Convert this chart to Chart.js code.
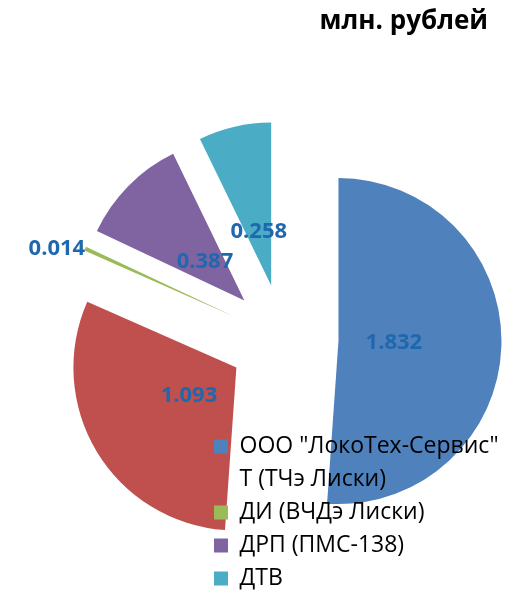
<!DOCTYPE html>
<html>
<head>
<meta charset="utf-8">
<script src="https://cdn.jsdelivr.net/npm/chart.js@4/dist/chart.umd.min.js"></script>
<style>
  html, body { margin: 0; padding: 0; background: #fff; }
  #wrap { width: 509px; height: 594px; }
</style>
</head>
<body>
<div id="wrap"><canvas id="mycanvas"></canvas></div>
<script>
var labels = ['ООО "ЛокоТех-Сервис"', 'Т (ТЧэ Лиски)', 'ДИ (ВЧДэ Лиски)', 'ДРП (ПМС-138)', 'ДТВ'];
var values = [1.832, 1.093, 0.014, 0.387, 0.258];
var colors = ['#4F81BD', '#C0504D', '#9BBB59', '#8064A2', '#4BACC6'];

var explode = 55;      // how far every slice is pulled out
var pieRadius = 163;
var legendLeft = 204;
var legendBottom = 600;

// pull every slice out along its bisector
var explodePlugin = {
  id: 'explode',
  beforeUpdate: function(chart) {
    // draw legend over the slices
    chart.legend._layers = function() {
      return [{ z: 1, draw: function(ca) { chart.legend.draw(ca); } }];
    };
  },
  afterLayout: function(chart) {
    var lg = chart.legend;
    lg.left = legendLeft;
    lg.right = legendLeft + lg.width;
    lg.top = 0;
    lg.bottom = legendBottom;
    lg.height = legendBottom;
  },
  afterDatasetsUpdate: function(chart) {
    chart.getDatasetMeta(0).data.forEach(function(arc) {
      var mid = (arc.startAngle + arc.endAngle) / 2;
      arc.x += Math.cos(mid) * explode;
      arc.y += Math.sin(mid) * explode;
    });
  }
};

var valueLabels = {
  id: 'valueLabels',
  afterDatasetsDraw: function(chart) {
    var ctx = chart.ctx;
    var total = values.reduce(function(a, b) { return a + b; }, 0);
    ctx.save();
    ctx.font = 'bold 22px "Open Sans"';
    ctx.fillStyle = '#1F68AE';
    ctx.textBaseline = 'middle';
    chart.getDatasetMeta(0).data.forEach(function(arc, i) {
      var mid = (arc.startAngle + arc.endAngle) / 2;
      var r = arc.outerRadius * 0.34;
      ctx.textAlign = 'center';
      if (values[i] / total < 0.02) {
        r = arc.outerRadius;
        ctx.textAlign = Math.cos(mid) < 0 ? 'right' : 'left';
      }
      ctx.fillText(values[i].toFixed(3), arc.x + Math.cos(mid) * r, arc.y + Math.sin(mid) * r);
    });
    ctx.restore();
  }
};

var ctx = document.getElementById('mycanvas');

var PieGraph = new Chart(ctx, {
  type: 'pie',
  data: {
    labels: labels,
    datasets: [{
      data: values,
      backgroundColor: colors,
      borderWidth: 0,
      hoverOffset: 0,
      radius: pieRadius
    }]
  },
  options: {
    responsive: true,
    maintainAspectRatio: false,
    animation: false,
    layout: { padding: { left: 79, right: 21, top: 0, bottom: 0 } },
    plugins: {
      title: {
        display: true,
        text: 'млн. рублей',
        align: 'end',
        color: '#000',
        font: { family: '"Open Sans"', size: 26, weight: 'bold' },
        padding: { top: 6, bottom: 47 }
      },
      legend: {
        position: 'chartArea',
        align: 'end',
        labels: {
          boxWidth: 14,
          boxHeight: 14,
          padding: 10,
          color: '#000',
          font: { family: '"Open Sans"', size: 23 }
        }
      },
      tooltip: { enabled: false }
    }
  },
  plugins: [explodePlugin, valueLabels]
});
</script>
</body>
</html>
